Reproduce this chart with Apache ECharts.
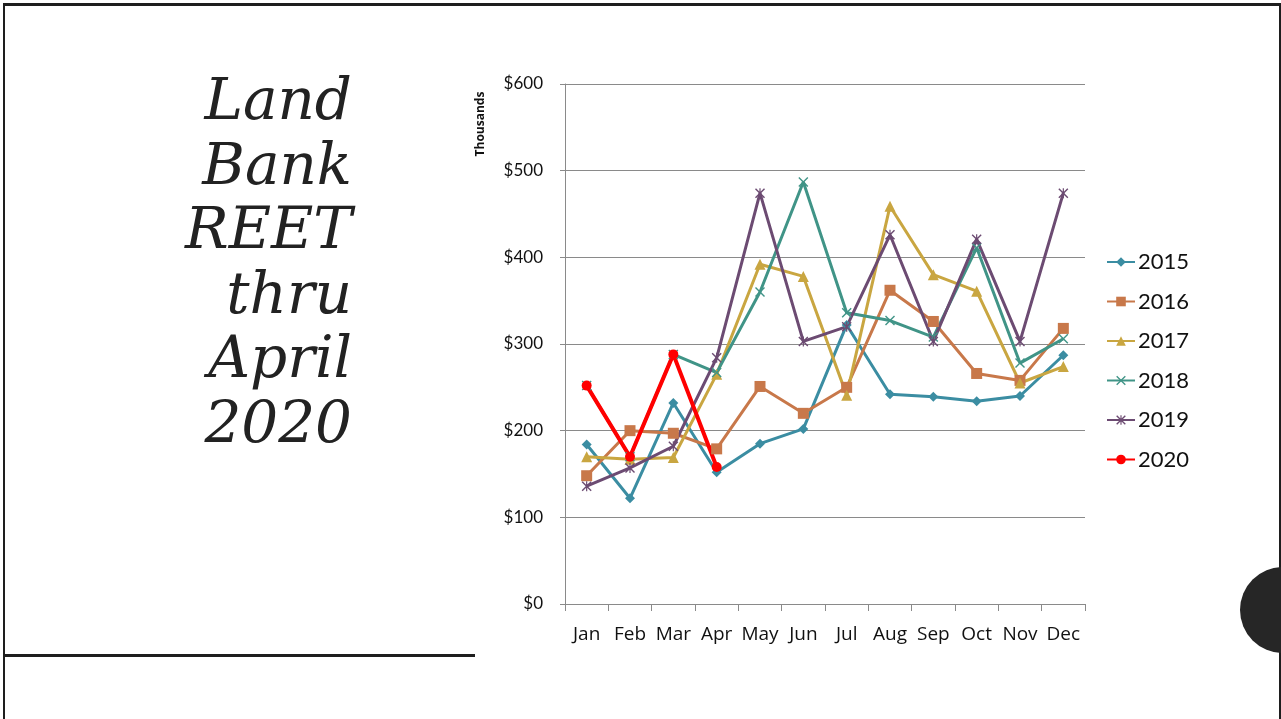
<!DOCTYPE html>
<html>
<head>
<meta charset="utf-8">
<title>Land Bank REET thru April 2020</title>
<script src="https://cdn.jsdelivr.net/npm/echarts@6.0.0/dist/echarts.min.js"></script>
<style>
  html, body { margin: 0; padding: 0; background: #fff; }
  #chart { width: 1281px; height: 719px; }
</style>
</head>
<body>
<div id="chart"></div>
<script>
// monthly REET receipts, in thousands of dollars
const months = ['Jan', 'Feb', 'Mar', 'Apr', 'May', 'Jun', 'Jul', 'Aug', 'Sep', 'Oct', 'Nov', 'Dec'];
const y2015 = [184, 122, 232, 152, 185, 202, 322, 242, 239, 234, 240, 287];
const y2016 = [148, 200, 197, 179, 251, 220, 250, 362, 326, 266, 258, 318];
const y2017 = [170, 167, 169, 265, 392, 378, 241, 459, 380, 361, 255, 274];
const y2018 = [252, 170, 288, 267, 360, 487, 336, 327, 308, 411, 278, 306];
const y2019 = [136, 157, 182, 284, 474, 303, 320, 426, 303, 421, 303, 474];
const y2020 = [252, 170, 288, 158];
const yTicks = [0, 100, 200, 300, 400, 500, 600];

const crossPath = 'path://M0,1 L1,0 L5,4 L9,0 L10,1 L6,5 L10,9 L9,10 L5,6 L1,10 L0,9 L4,5 Z';
const starPath = 'path://M0,1 L1,0 L5,4 L9,0 L10,1 L6,5 L10,9 L9,10 L5,6 L1,10 L0,9 L4,5 Z M4.4,0 L5.6,0 L5.6,10 L4.4,10 Z';

const chart = echarts.init(document.getElementById('chart'));

const makeSeries = (name, data, color, symbol, size, width) => ({
  name: name,
  type: 'line',
  data: data,
  symbol: symbol,
  symbolSize: size,
  showSymbol: true,
  lineStyle: { width: width || 3, color: color },
  itemStyle: { color: color },
  emphasis: { disabled: true },
  animation: false
});

const option = {
  backgroundColor: '#ffffff',
  animation: false,
  grid: {
    left: 565,
    top: 84,
    right: 196,
    bottom: 115,
    containLabel: false
  },
  legend: {
    orient: 'vertical',
    left: 1106,
    top: 251,
    padding: 0,
    itemWidth: 28,
    itemHeight: 12,
    itemGap: 17.5,
    textStyle: {
      fontFamily: 'Lato',
      fontSize: 22,
      color: '#111',
      padding: [0, 0, 0, -2]
    },
    data: ['2015', '2016', '2017', '2018', '2019', '2020']
  },
  xAxis: {
    type: 'category',
    data: months,
    boundaryGap: true,
    axisLine: { lineStyle: { color: '#8a8a8a', width: 1 } },
    axisTick: { show: true, interval: 0, length: 7, lineStyle: { color: '#8a8a8a' } },
    axisLabel: {
      interval: 0,
      color: '#111',
      fontFamily: 'Open Sans',
      fontSize: 19,
      margin: 21
    },
    splitLine: { show: false }
  },
  yAxis: {
    type: 'value',
    min: yTicks[0],
    max: yTicks[yTicks.length - 1],
    interval: 100,
    axisLine: { show: true, lineStyle: { color: '#8a8a8a', width: 1 } },
    axisTick: { show: true, length: 5, lineStyle: { color: '#8a8a8a' } },
    axisLabel: {
      color: '#111',
      fontFamily: 'Lato',
      fontSize: 17,
      margin: 22,
      formatter: '${value}'
    },
    splitLine: { lineStyle: { color: '#8a8a8a', width: 1 } }
  },
  graphic: [
    // slide frame
    { type: 'rect', shape: { x: 3, y: 3, width: 1278, height: 3 }, style: { fill: '#1e1e1e' } },
    { type: 'rect', shape: { x: 3, y: 3, width: 2, height: 716 }, style: { fill: '#1e1e1e' } },
    { type: 'rect', shape: { x: 1279, y: 3, width: 2, height: 716 }, style: { fill: '#1e1e1e' } },
    { type: 'rect', shape: { x: 3, y: 654, width: 472, height: 3 }, style: { fill: '#1e1e1e' } },
    { type: 'circle', shape: { cx: 1283, cy: 610, r: 43 }, style: { fill: '#262626' } },
    // slide title
    {
      type: 'text',
      x: 352,
      y: 72,
      style: {
        text: 'Land\nBank\nREET\nthru\nApril\n2020',
        fill: '#222',
        font: 'italic 58px "DejaVu Serif"',
        align: 'right',
        verticalAlign: 'top',
        lineHeight: 64.5
      }
    },
    {
      type: 'text',
      x: 481,
      y: 124,
      rotation: Math.PI / 2,
      style: {
        text: 'Thousands',
        fill: '#111',
        font: 'bold 12px "Open Sans"',
        align: 'center',
        verticalAlign: 'middle'
      }
    }
  ],
  series: [
    makeSeries('2015', y2015, '#3b8da2', 'diamond', 10),
    makeSeries('2016', y2016, '#c8784a', 'rect', 11),
    makeSeries('2017', y2017, '#c9a641', 'triangle', 11),
    makeSeries('2018', y2018, '#409487', crossPath, 10),
    makeSeries('2019', y2019, '#6c4b72', starPath, 10),
    makeSeries('2020', y2020, '#ff0000', 'circle', 10, 4)
  ]
};

chart.setOption(option);
</script>
</body>
</html>
